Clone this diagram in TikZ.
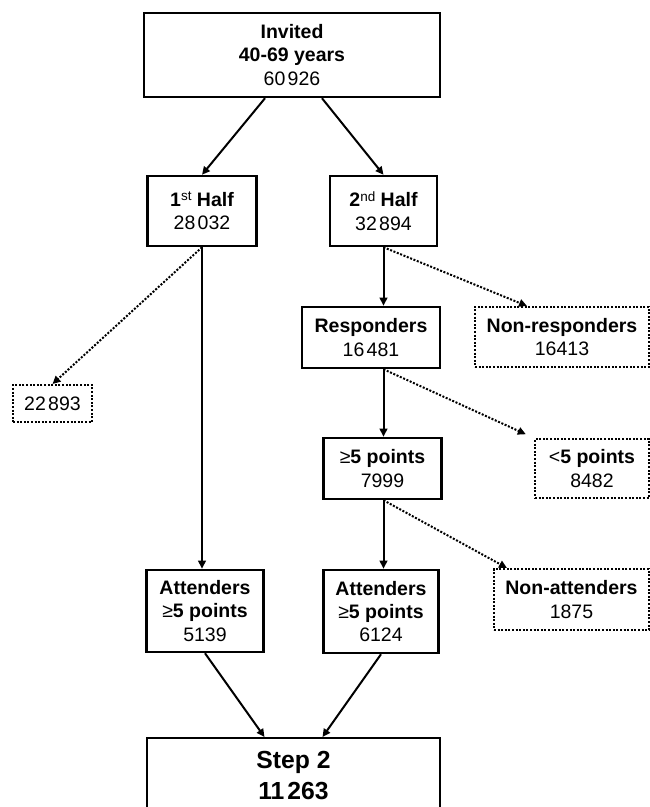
\documentclass[tikz,border=0pt]{standalone}
\usepackage{fontspec}
\setmainfont{Liberation Sans}
\usetikzlibrary{arrows.meta,positioning,calc}

\newcommand{\thsp}{\kern0.12em}
\newcommand{\supr}[1]{\raisebox{5.5pt}{\fontsize{13.5}{13.5}\selectfont\mdseries #1}}

\begin{document}
\begin{tikzpicture}[x=1pt,y=1pt,
solidbox/.style={draw, line width=2.5pt, inner sep=0pt, align=center,
  font=\fontsize{19.5}{23.4}\selectfont},
dotbox/.style={solidbox, line width=2pt, dash pattern=on 2pt off 1.6pt},
arr/.style={line width=2pt, -{Triangle[length=8pt,width=7.5pt]}},
dotarr/.style={arr, dash pattern=on 2pt off 1.6pt}]
\useasboundingbox (0,0) rectangle (650,807);
\node[solidbox, minimum width=296, minimum height=84] (invited) at (292,752)
  {\textbf{Invited}\\\textbf{40-69 years}\\60\thsp926};
\node[solidbox, minimum width=109, minimum height=70] (half1) at (202,596)
  {\textbf{1\supr{st} Half}\\28\thsp032};
\node[solidbox, minimum width=107, minimum height=70] (half2) at (383.5,596)
  {\textbf{2\supr{nd} Half}\\32\thsp894};
\node[solidbox, minimum width=138, minimum height=61] (resp) at (371,469.5)
  {\textbf{Responders}\\16\thsp481};
\node[dotbox, minimum width=174, minimum height=60] (nonresp) at (562,470)
  {\textbf{Non-responders}\\16413};
\node[dotbox, minimum width=79, minimum height=37] (excl) at (52.5,403.5)
  {22\thsp893};
\node[solidbox, minimum width=118, minimum height=61] (ge5) at (382.5,338.5)
  {≥\textbf{5 points}\\7999};
\node[dotbox, minimum width=114, minimum height=59] (lt5) at (592,338.5)
  {<\textbf{5 points}\\8482};
\node[solidbox, minimum width=117, minimum height=82] (att1) at (205,196)
  {\textbf{Attenders}\\≥\textbf{5 points}\\5139};
\node[solidbox, minimum width=115, minimum height=83] (att2) at (381,195.5)
  {\textbf{Attenders}\\≥\textbf{5 points}\\6124};
\node[dotbox, minimum width=155, minimum height=61] (nonatt) at (571.5,207.5)
  {\textbf{Non-attenders}\\1875};
\node[solidbox, minimum width=293, minimum height=74, anchor=north,
  font=\fontsize{24.7}{31}\selectfont\bfseries] (step2) at (293.5,70)
  {Step 2\\11\thsp263};

\draw[arr] ([xshift=-27pt]invited.south) -- (half1.north);
\draw[arr] ([xshift=30pt]invited.south) -- (half2.north);
\draw[arr] (half1.south) -- (half1.south |- att1.north);
\draw[dotarr] (half1.south) -- (excl.north);
\draw[arr] (half2.south) -- (half2.south |- resp.north);
\draw[dotarr] (half2.south) -- ([xshift=-35pt]nonresp.north);
\draw[arr] (resp.south -| half2.south) -- (half2.south |- ge5.north);
\draw[dotarr, shorten >=9pt] (resp.south -| half2.south) -- (lt5.north west);
\draw[arr] (ge5.south -| half2.south) -- (half2.south |- att2.north);
\draw[dotarr] (ge5.south -| half2.south) -- ([xshift=14pt]nonatt.north west);
\draw[arr] (att1.south) -- ([xshift=-29pt]step2.north);
\draw[arr] (att2.south) -- ([xshift=29pt]step2.north);
\end{tikzpicture}
\end{document}
